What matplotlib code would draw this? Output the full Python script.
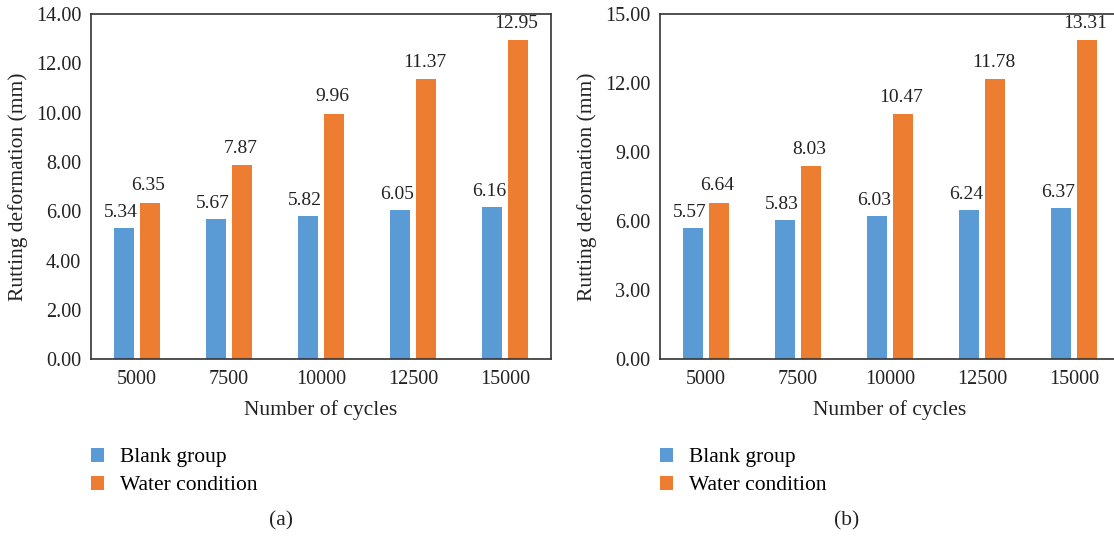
import matplotlib
matplotlib.use("Agg")
import matplotlib.pyplot as plt
import numpy as np

plt.rcParams['font.family'] = ['Liberation Serif', 'DejaVu Serif']

cycles = ["5000", "7500", "10000", "12500", "15000"]

# panel (a)
a_blank = [5.34, 5.67, 5.82, 6.05, 6.16]
a_water = [6.35, 7.87, 9.96, 11.37, 12.95]

# panel (b): bar heights as drawn, and the printed labels
b_blank_bar = [5.70, 6.05, 6.23, 6.49, 6.57]
b_water_bar = [6.80, 8.40, 10.66, 12.18, 13.87]
b_blank_lbl = [5.57, 5.83, 6.03, 6.24, 6.37]
b_water_lbl = [6.64, 8.03, 10.47, 11.78, 13.31]

blue = "#5B9BD5"
orange = "#ED7D31"
ft = 14.5   # ticks
fv = 14     # bar values
fl = 15.5   # axis labels, legend

fig = plt.figure(figsize=(11.14, 5.36), dpi=100)

def panel(left, blank, water, blank_lbl, water_lbl, ymax, ystep, tag, tag_x):
    ax = fig.add_axes([left, 0.3297, 0.4129, 0.6442])
    x = np.arange(len(cycles))
    w = 0.215
    off = 0.145
    ax.bar(x - off, blank, w, color=blue, label="Blank group")
    ax.bar(x + off, water, w, color=orange, label="Water condition")
    for xi, h, t in zip(x, blank, blank_lbl):
        ax.annotate(f"{t:.2f}", (xi - off - 0.03, h), xytext=(0, 5), textcoords="offset points",
                    ha="center", va="bottom", fontsize=fv, color="#222222")
    for xi, h, t in zip(x, water, water_lbl):
        ax.annotate(f"{t:.2f}", (xi + off - 0.02, h), xytext=(0, 6), textcoords="offset points",
                    ha="center", va="bottom", fontsize=fv, color="#222222")
    ax.set_xlim(-0.5, 4.5)
    ax.set_ylim(0, ymax)
    ax.set_yticks(np.arange(0, ymax + 0.01, ystep))
    ax.set_yticklabels([f"{v:.2f}" for v in np.arange(0, ymax + 0.01, ystep)])
    ax.set_xticks(x)
    ax.set_xticklabels(cycles)
    ax.tick_params(length=0, labelsize=ft, colors="#222222", pad=8)
    ax.tick_params(axis="y", pad=7)
    for s in ax.spines.values():
        s.set_linewidth(1.2)
        s.set_color("#333333")
    ax.set_xlabel("Number of cycles", fontsize=fl, color="#222222", labelpad=8)
    ax.set_ylabel("Rutting deformation (mm)", fontsize=fl, color="#222222", labelpad=6)
    ax.legend(loc="upper left", bbox_to_anchor=(0.0, -0.257), frameon=False, fontsize=fl,
              handlelength=0.6, handleheight=0.6, handletextpad=0.75, labelspacing=0.4,
              borderaxespad=0, borderpad=0)
    fig.text(tag_x, 0.028, tag, ha="center", va="center", fontsize=fl, color="#222222")
    return ax

panel(0.0817, a_blank, a_water, a_blank, a_water, 14, 2, "(a)", 0.252)
panel(0.5925, b_blank_bar, b_water_bar, b_blank_lbl, b_water_lbl, 15, 3, "(b)", 0.760)

fig.savefig("out.png", dpi=100)
